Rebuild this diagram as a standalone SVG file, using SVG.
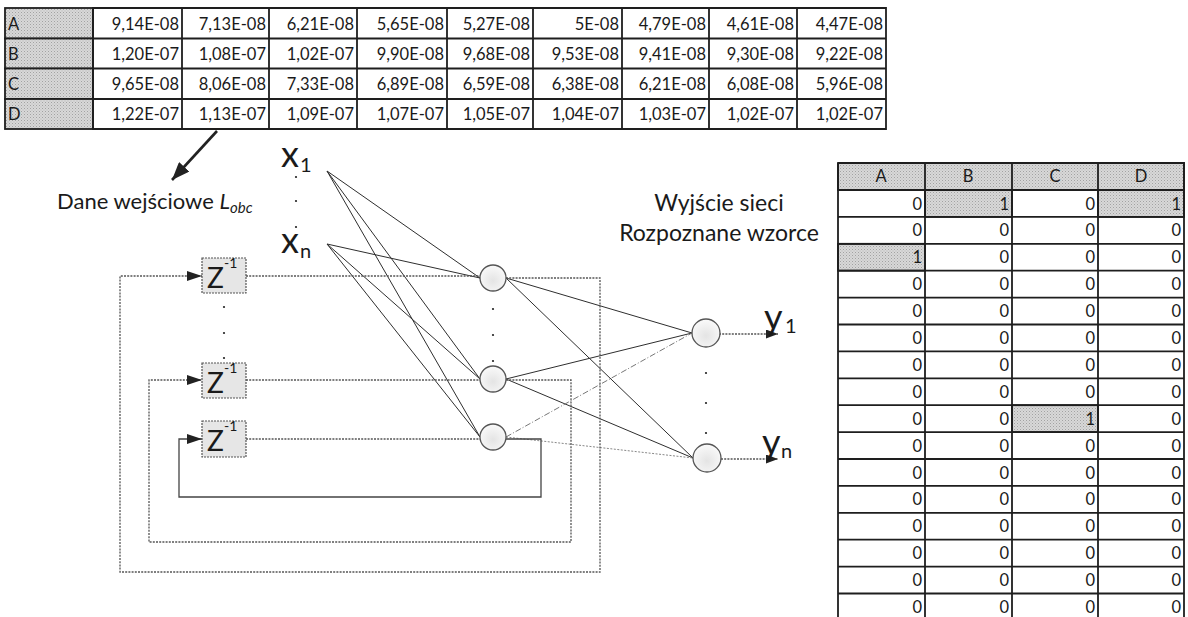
<svg xmlns="http://www.w3.org/2000/svg" width="1188" height="617" viewBox="0 0 1188 617">
<style>
.bg{fill:#ffffff}
.cell{fill:#ffffff;stroke:#1e1e1e;stroke-width:1.8}
.shade{fill:url(#shade);stroke:#1e1e1e;stroke-width:1.8}
.tt{font-family:Lato,"Open Sans","Liberation Sans",sans-serif;font-size:16.5px;fill:#1a1a1a}
.num{text-anchor:end}
.hdr{text-anchor:middle}
.lbl{font-family:Lato,"Open Sans","Liberation Sans",sans-serif;fill:#1a1a1a}
.big{font-size:36px}
.sub{font-size:20px}
.cap{font-size:22px}
.cap2{font-size:23px}
.net{stroke:#2e2e2e;stroke-width:1;fill:none}
.netl{stroke:#777;stroke-width:1;fill:none;stroke-dasharray:6 2 1 2}
.netd{stroke:#888;stroke-width:1;fill:none;stroke-dasharray:2 1.5}
.loop{stroke:#555;stroke-width:1.3;fill:none;stroke-dasharray:2 1.2}
.loops{stroke:#444;stroke-width:1.3;fill:none}
.zbox{fill:#e6e6e6;stroke:#555;stroke-width:1.2;stroke-dasharray:2 1}
.neuron{fill:url(#ng);stroke:#555;stroke-width:1.3}
.dot{fill:#222}
</style>
<defs>
<pattern id="shade" width="3" height="3" patternUnits="userSpaceOnUse"><rect width="3" height="3" fill="#d8d8d8"/><rect width="1" height="1" fill="#a2a2a2"/><rect x="1.5" y="1.5" width="1" height="1" fill="#b4b4b4"/></pattern>
<radialGradient id="ng" cx="0.5" cy="0.6" r="0.6"><stop offset="0" stop-color="#e4e4e4"/><stop offset="1" stop-color="#fafafa"/></radialGradient>
<marker id="zin" markerWidth="15" markerHeight="10" refX="15" refY="5" orient="auto" markerUnits="userSpaceOnUse"><path d="M0,0 L15,5 L0,10 z" fill="#222"/></marker>
<marker id="oin" markerWidth="12" markerHeight="9" refX="12" refY="4.5" orient="auto" markerUnits="userSpaceOnUse"><path d="M0,0 L12,4.5 L0,9 z" fill="#222"/></marker>
<marker id="big" markerWidth="18" markerHeight="14" refX="18" refY="7" orient="auto" markerUnits="userSpaceOnUse"><path d="M0,0 L18,7 L0,14 z" fill="#222"/></marker>
</defs>
<rect class="bg" width="1188" height="617"/>

<g id="input-table">
<rect class="shade" x="5" y="8" width="88" height="30.5"/>
<rect class="shade" x="5" y="38.5" width="88" height="30"/>
<rect class="shade" x="5" y="68.5" width="88" height="30.5"/>
<rect class="shade" x="5" y="99" width="88" height="30"/>
<g class="tt">
<text x="8" y="29.5">A</text><text x="8" y="59.5">B</text><text x="8" y="90">C</text><text x="8" y="120">D</text>
</g>
<path class="cell" style="fill:none" d="M93,8 H886 V129 H93 Z M182,8 V129 M269,8 V129 M357,8 V129 M447,8 V129 M533,8 V129 M622,8 V129 M709,8 V129 M797,8 V129 M93,38.5 H886 M93,68.5 H886 M93,99 H886"/>
<g class="tt num">
<text x="179" y="29.5">9,14E-08</text><text x="266" y="29.5">7,13E-08</text><text x="354" y="29.5">6,21E-08</text><text x="444" y="29.5">5,65E-08</text><text x="530" y="29.5">5,27E-08</text><text x="619" y="29.5">5E-08</text><text x="706" y="29.5">4,79E-08</text><text x="794" y="29.5">4,61E-08</text><text x="883" y="29.5">4,47E-08</text>
<text x="179" y="59.5">1,20E-07</text><text x="266" y="59.5">1,08E-07</text><text x="354" y="59.5">1,02E-07</text><text x="444" y="59.5">9,90E-08</text><text x="530" y="59.5">9,68E-08</text><text x="619" y="59.5">9,53E-08</text><text x="706" y="59.5">9,41E-08</text><text x="794" y="59.5">9,30E-08</text><text x="883" y="59.5">9,22E-08</text>
<text x="179" y="90">9,65E-08</text><text x="266" y="90">8,06E-08</text><text x="354" y="90">7,33E-08</text><text x="444" y="90">6,89E-08</text><text x="530" y="90">6,59E-08</text><text x="619" y="90">6,38E-08</text><text x="706" y="90">6,21E-08</text><text x="794" y="90">6,08E-08</text><text x="883" y="90">5,96E-08</text>
<text x="179" y="120">1,22E-07</text><text x="266" y="120">1,13E-07</text><text x="354" y="120">1,09E-07</text><text x="444" y="120">1,07E-07</text><text x="530" y="120">1,05E-07</text><text x="619" y="120">1,04E-07</text><text x="706" y="120">1,03E-07</text><text x="794" y="120">1,02E-07</text><text x="883" y="120">1,02E-07</text>
</g>
</g>

<g id="input-label">
<text class="lbl cap" x="57" y="209">Dane wejściowe <tspan font-style="italic">L</tspan><tspan font-style="italic" font-size="15" dy="4">obc</tspan></text>
</g>

<g id="output-label">
<text class="lbl cap2" x="719" y="211" text-anchor="middle">Wyjście sieci</text>
<text class="lbl cap2" x="719" y="241" text-anchor="middle">Rozpoznane wzorce</text>
</g>

<g id="connectors">
<line x1="217" y1="131" x2="172" y2="180" stroke="#222" stroke-width="2.6" marker-end="url(#big)"/>
<path class="net" d="M327,171 L480,278 M327,171 L480,379 M327,171 L480,437 M327,244 L480,278 M327,244 L480,379 M327,244 L480,437"/>
<path class="loop" d="M246,276 H480 M246,380 H480 M246,439 H480"/>
<path class="net" d="M506,278 L692,333 M506,278 L693,458 M506,379 L692,333 M506,379 L693,458"/>
<path class="netl" d="M506,437 L692,333"/>
<path class="netd" d="M506,437 L693,458"/>
<path class="loop" d="M719,334 H778" marker-end="url(#oin)"/>
<path class="loop" d="M721,459 H778" marker-end="url(#oin)"/>
<path class="loop" d="M506,278 H600 V572 H120 V276 H202" marker-end="url(#zin)"/>
<path class="loop" d="M506,380 H571 V542 H149 V380 H202" marker-end="url(#zin)"/>
<path class="loops" d="M506,439 H541 V497 H179 V439 H202" marker-end="url(#zin)"/>
</g>

<g id="x1"><text class="lbl big" x="281" y="167">x</text><text class="lbl sub" x="300" y="172">1</text></g>
<g id="x-dots"><circle class="dot" cx="296" cy="177" r="1.1"/><circle class="dot" cx="296" cy="201" r="1.1"/><circle class="dot" cx="296" cy="227" r="1.1"/></g>
<g id="xn"><text class="lbl big" x="281" y="253">x</text><text class="lbl sub" x="300" y="258">n</text></g>

<g id="z1"><rect class="zbox" x="202" y="258" width="44" height="35"/><text class="lbl" x="207" y="288" font-size="28">Z</text><text class="lbl" x="224" y="268" font-size="14">-1</text></g>
<g id="z-dots"><circle class="dot" cx="224" cy="307" r="1.1"/><circle class="dot" cx="224" cy="333" r="1.1"/><circle class="dot" cx="224" cy="358" r="1.1"/></g>
<g id="z2"><rect class="zbox" x="202" y="363" width="44" height="35"/><text class="lbl" x="207" y="393" font-size="28">Z</text><text class="lbl" x="224" y="373" font-size="14">-1</text></g>
<g id="z3"><rect class="zbox" x="202" y="421" width="44" height="36"/><text class="lbl" x="207" y="451" font-size="28">Z</text><text class="lbl" x="224" y="431" font-size="14">-1</text></g>

<g id="h1"><circle class="neuron" cx="493" cy="278" r="13"/></g>
<g id="h-dots"><circle class="dot" cx="493" cy="309" r="1.1"/><circle class="dot" cx="493" cy="335" r="1.1"/><circle class="dot" cx="493" cy="361" r="1.1"/></g>
<g id="h2"><circle class="neuron" cx="493" cy="379" r="13"/></g>
<g id="h3"><circle class="neuron" cx="493" cy="437" r="13"/></g>

<g id="y1-node"><circle class="neuron" cx="706" cy="333" r="14"/></g>
<g id="y-dots"><circle class="dot" cx="706" cy="373" r="1.1"/><circle class="dot" cx="706" cy="403" r="1.1"/><circle class="dot" cx="706" cy="433" r="1.1"/></g>
<g id="yn-node"><circle class="neuron" cx="707" cy="458" r="14"/></g>
<g id="y1"><text class="lbl big" x="764" y="330">y</text><text class="lbl sub" x="785" y="333">1</text></g>
<g id="yn"><text class="lbl big" x="762" y="455">y</text><text class="lbl sub" x="781" y="458">n</text></g>

<g id="output-table">
<rect class="shade" x="838" y="163" width="346" height="27"/>
<rect class="shade" x="925" y="190" width="87" height="26.9"/>
<rect class="shade" x="1098" y="190" width="86" height="26.9"/>
<rect class="shade" x="838" y="243.8" width="87" height="26.9"/>
<rect class="shade" x="1012" y="405.2" width="86" height="26.9"/>
<path class="cell" style="fill:none" d="M838,163 H1184 V622 M838,163 V622 M925,163 V622 M1012,163 V622 M1098,163 V622 M838,190 H1184 M838,216.9 H1184 M838,243.8 H1184 M838,270.7 H1184 M838,297.6 H1184 M838,324.5 H1184 M838,351.4 H1184 M838,378.3 H1184 M838,405.2 H1184 M838,432.1 H1184 M838,459 H1184 M838,485.9 H1184 M838,512.8 H1184 M838,539.7 H1184 M838,566.6 H1184 M838,593.5 H1184"/>
<g class="tt hdr"><text x="881" y="182">A</text><text x="968" y="182">B</text><text x="1055" y="182">C</text><text x="1141" y="182">D</text></g>
<g class="tt num">
<text x="922" y="209.5">0</text><text x="1009" y="209.5">1</text><text x="1095" y="209.5">0</text><text x="1181" y="209.5">1</text>
<text x="922" y="236.4">0</text><text x="1009" y="236.4">0</text><text x="1095" y="236.4">0</text><text x="1181" y="236.4">0</text>
<text x="922" y="263.3">1</text><text x="1009" y="263.3">0</text><text x="1095" y="263.3">0</text><text x="1181" y="263.3">0</text>
<text x="922" y="290.2">0</text><text x="1009" y="290.2">0</text><text x="1095" y="290.2">0</text><text x="1181" y="290.2">0</text>
<text x="922" y="317.1">0</text><text x="1009" y="317.1">0</text><text x="1095" y="317.1">0</text><text x="1181" y="317.1">0</text>
<text x="922" y="344">0</text><text x="1009" y="344">0</text><text x="1095" y="344">0</text><text x="1181" y="344">0</text>
<text x="922" y="370.9">0</text><text x="1009" y="370.9">0</text><text x="1095" y="370.9">0</text><text x="1181" y="370.9">0</text>
<text x="922" y="397.8">0</text><text x="1009" y="397.8">0</text><text x="1095" y="397.8">0</text><text x="1181" y="397.8">0</text>
<text x="922" y="424.7">0</text><text x="1009" y="424.7">0</text><text x="1095" y="424.7">1</text><text x="1181" y="424.7">0</text>
<text x="922" y="451.6">0</text><text x="1009" y="451.6">0</text><text x="1095" y="451.6">0</text><text x="1181" y="451.6">0</text>
<text x="922" y="478.5">0</text><text x="1009" y="478.5">0</text><text x="1095" y="478.5">0</text><text x="1181" y="478.5">0</text>
<text x="922" y="505.4">0</text><text x="1009" y="505.4">0</text><text x="1095" y="505.4">0</text><text x="1181" y="505.4">0</text>
<text x="922" y="532.3">0</text><text x="1009" y="532.3">0</text><text x="1095" y="532.3">0</text><text x="1181" y="532.3">0</text>
<text x="922" y="559.2">0</text><text x="1009" y="559.2">0</text><text x="1095" y="559.2">0</text><text x="1181" y="559.2">0</text>
<text x="922" y="586.1">0</text><text x="1009" y="586.1">0</text><text x="1095" y="586.1">0</text><text x="1181" y="586.1">0</text>
<text x="922" y="613">0</text><text x="1009" y="613">0</text><text x="1095" y="613">0</text><text x="1181" y="613">0</text>
</g>
</g>
</svg>
